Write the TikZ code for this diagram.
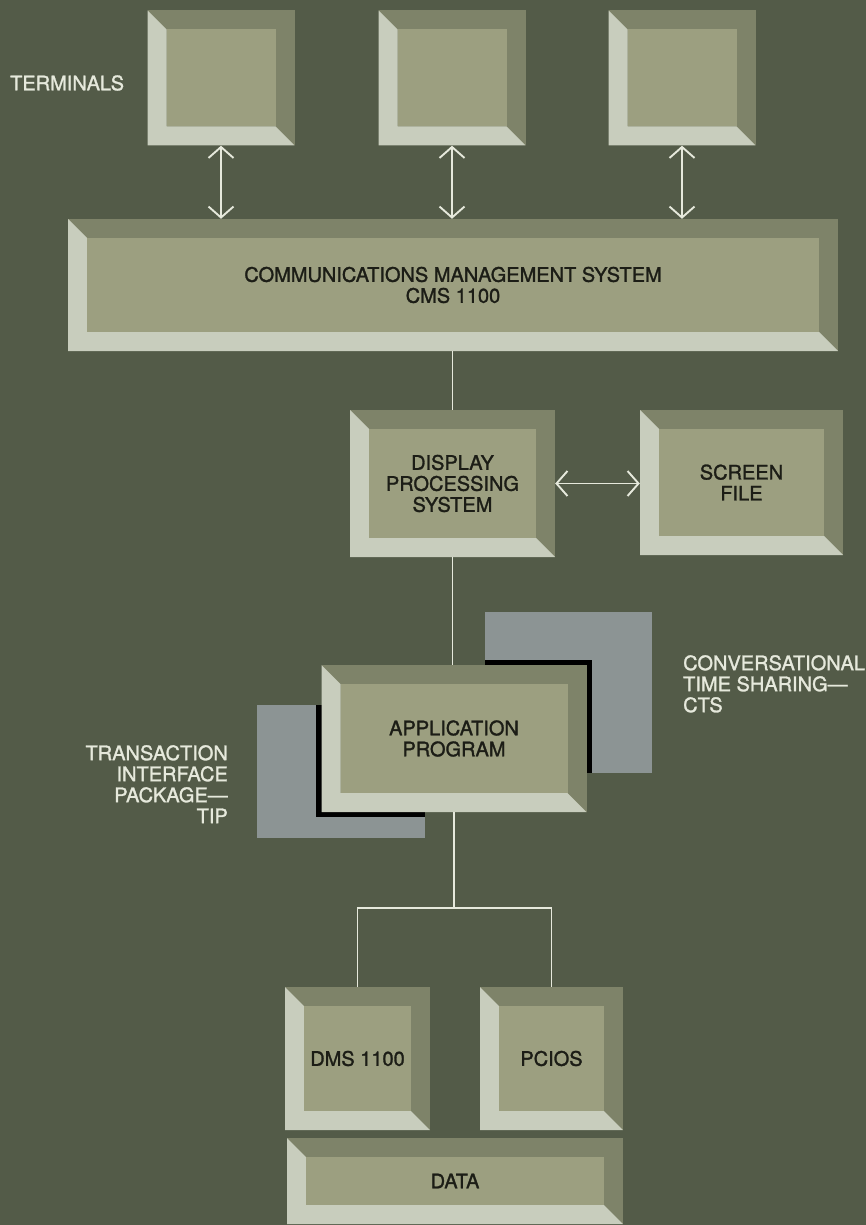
\documentclass[tikz,border=0pt]{standalone}
\usepackage{fontspec}
\setmainfont{TeX Gyre Heros}
\newfontfamily\medfont{TeX Gyre Heros}[Ligatures=TeX, FakeBold=1.4]
\usetikzlibrary{arrows.meta}
\definecolor{bgolive}{HTML}{535B48}
\definecolor{bevdark}{HTML}{7E8369}
\definecolor{bevlite}{HTML}{C8CDBD}
\definecolor{facecol}{HTML}{9C9F80}
\definecolor{greysq}{HTML}{8C9494}
\definecolor{wire}{HTML}{E6E9DC}
\definecolor{inktext}{HTML}{1C1D16}
\newcommand{\bevw}{19pt}

\tikzset{
  bevbox/.style={rectangle, fill=bevdark, inner sep=0pt, align=center, text=inktext,
    font=\medfont\fontsize{20}{21}\selectfont,
    path picture={
      \coordinate (pp-sw) at (path picture bounding box.south west);
      \coordinate (pp-ne) at (path picture bounding box.north east);
      \coordinate (pp-a) at ([shift={(\bevw,\bevw)}]pp-sw);
      \coordinate (pp-b) at ([shift={(-\bevw,-\bevw)}]pp-ne);
      \fill[bevlite] (pp-sw) -- (pp-sw|-pp-ne) -- (pp-a|-pp-b) -- (pp-a) -- (pp-b|-pp-a) -- (pp-ne|-pp-sw) -- cycle;
      \fill[facecol] (pp-a) rectangle (pp-b);
    }},
  conn/.style={draw=wire, line width=1.9pt},
  dbl/.style={conn, {Straight Barb[length=11pt,width=25pt]}-{Straight Barb[length=11pt,width=25pt]}},
  lbl/.style={text=wire, inner sep=0pt, font=\medfont\fontsize{20}{21}\selectfont}
}

\begin{document}
\begin{tikzpicture}[x=1pt, y=-1pt]
\fill[bgolive] (0,0) rectangle (866,1225);
\useasboundingbox (0,0) rectangle (866,1225);

% terminals
\node[bevbox, minimum width=147pt, minimum height=135pt] (term1) at (221,78) {};
\node[bevbox, minimum width=147pt, minimum height=135pt] (term2) at (452,78) {};
\node[bevbox, minimum width=147pt, minimum height=135pt] (term3) at (682,78) {};
\node[lbl, anchor=west] (termlbl) at (10,83) {TERMINALS};

\node[bevbox, minimum width=770pt, minimum height=132pt] (cms) at (453,285)
  {COMMUNICATIONS MANAGEMENT SYSTEM\\CMS 1100};

\node[bevbox, minimum width=205pt, minimum height=147pt] (dps) at (452.5,483.5)
  {DISPLAY\\PROCESSING\\SYSTEM};
\node[bevbox, minimum width=203pt, minimum height=145pt] (sfile) at (741.5,482.5)
  {SCREEN\\FILE};

% TIP and CTS panels behind the program
\fill[greysq] (485,612) rectangle (652,773);
\fill[greysq] (257,705) rectangle (425,838);
\fill[black] (485,660) rectangle (592,773);
\fill[black] (316,705) rectangle (425,817);
\node[lbl, anchor=north west, align=left] (ctslbl) at (683,655)
  {CONVERSATIONAL\\TIME SHARING---\\CTS};
\node[lbl, anchor=north east, align=right] (tiplbl) at (228,745)
  {TRANSACTION\\INTERFACE\\PACKAGE---\\TIP};

\node[bevbox, minimum width=265pt, minimum height=147pt] (app) at (454,738.5)
  {APPLICATION\\PROGRAM};

\node[bevbox, minimum width=145pt, minimum height=143pt] (dms) at (357.5,1058.5) {DMS 1100};
\node[bevbox, minimum width=143pt, minimum height=143pt] (pcios) at (551.5,1058.5) {PCIOS};
\node[bevbox, minimum width=336pt, minimum height=86pt] (data) at (455,1181) {DATA};

% connectors
\foreach \t in {term1,term2,term3}
  \draw[dbl] (\t.south) -- (\t.south |- cms.north);
\draw[conn] (cms.south -| dps.north) -- (dps.north);
\draw[dbl] (dps.east) -- (dps.east -| sfile.west);
\draw[conn] (dps.south) -- (dps.south |- app.north);
\coordinate (split) at (454,908);
\draw[conn] (app.south) -- (split);
\draw[conn] (dms.north) |- (split) -| (pcios.north);
\end{tikzpicture}
\end{document}
